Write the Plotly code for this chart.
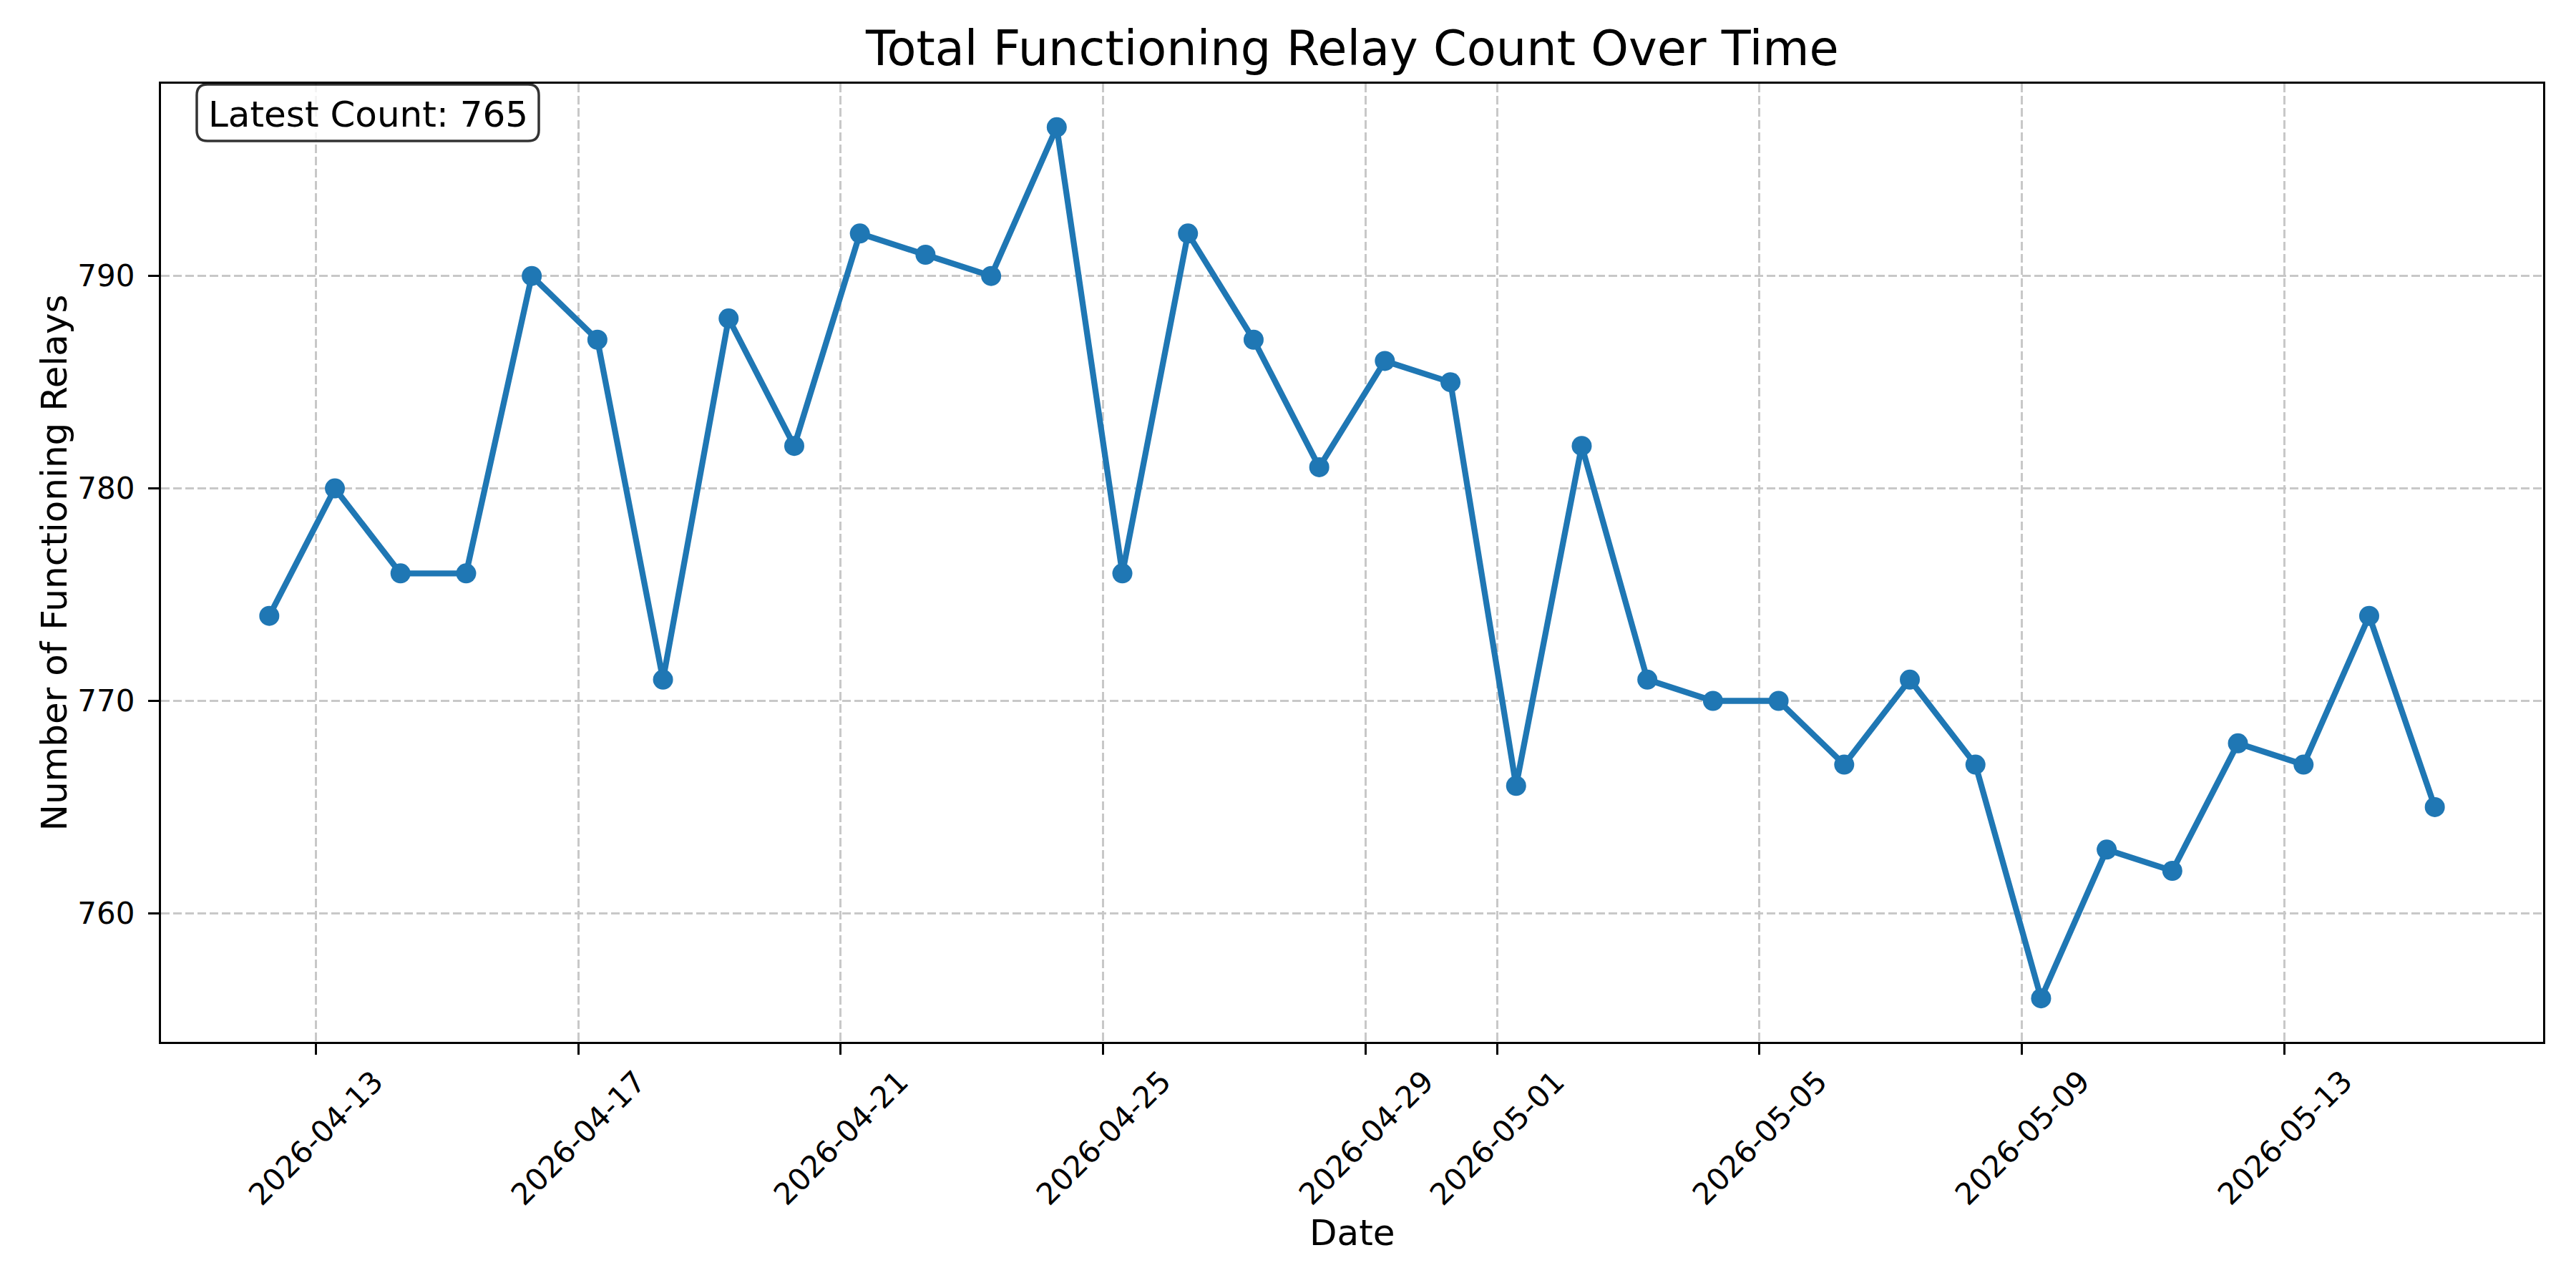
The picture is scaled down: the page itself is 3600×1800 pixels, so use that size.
import plotly.graph_objects as go
import pandas as pd

# ---- data ----
dates = [
    "2026-04-12 07:00", "2026-04-13 07:00", "2026-04-14 07:00", "2026-04-15 07:00",
    "2026-04-16 07:00", "2026-04-17 07:00", "2026-04-18 07:00", "2026-04-19 07:00",
    "2026-04-20 07:00", "2026-04-21 07:00", "2026-04-22 07:00", "2026-04-23 07:00",
    "2026-04-24 07:00", "2026-04-25 07:00", "2026-04-26 07:00", "2026-04-27 07:00",
    "2026-04-28 07:00", "2026-04-29 07:00", "2026-04-30 07:00", "2026-05-01 07:00",
    "2026-05-02 07:00", "2026-05-03 07:00", "2026-05-04 07:00", "2026-05-05 07:00",
    "2026-05-06 07:00", "2026-05-07 07:00", "2026-05-08 07:00", "2026-05-09 07:00",
    "2026-05-10 07:00", "2026-05-11 07:00", "2026-05-12 07:00", "2026-05-13 07:00",
    "2026-05-14 07:00", "2026-05-15 07:00",
]
counts = [
    774, 780, 776, 776, 790, 787, 771, 788, 782, 792, 791, 790, 797, 776, 792, 787,
    781, 786, 785, 766, 782, 771, 770, 770, 767, 771, 767, 756, 763, 762, 768, 767,
    774, 765,
]
tick_dates = ["2026-04-13", "2026-04-17", "2026-04-21", "2026-04-25", "2026-04-29",
              "2026-05-01", "2026-05-05", "2026-05-09", "2026-05-13"]
y_ticks = [760, 770, 780, 790]

title_text = "Total Functioning Relay Count Over Time"
x_title = "Date"
y_title = "Number of Functioning Relays"

# ---- geometry ----
W, H = 3600, 1800
L, R, T, B = 225, 46, 117, 344
PW, PH = W - L - R, H - T - B


def px_x(px):
    return (px - L) / PW


def px_y(py):
    return (H - B - py) / PH


FONT = "DejaVu Sans"
BLUE = "#1f77b4"

d = pd.to_datetime(dates)
span = d.max() - d.min()
x_range = [d.min() - 0.05 * span, d.max() + 0.05 * span]
ymin, ymax = min(counts), max(counts)
yspan = ymax - ymin
y_range = [ymin - 0.05 * yspan, ymax + 0.05 * yspan]

fig = go.Figure()
fig.add_trace(go.Scatter(
    x=d, y=counts, mode="lines+markers",
    line=dict(color=BLUE, width=8.3),
    marker=dict(color=BLUE, size=28, line=dict(width=0)),
    showlegend=False,
))

annotations = []
# title
annotations.append(dict(text=title_text, x=0.5, y=px_y(68), xref="paper", yref="paper",
                        xanchor="center", yanchor="middle", showarrow=False,
                        font=dict(family=FONT, size=67, color="black")))
# x title
annotations.append(dict(text=x_title, x=0.5, y=px_y(1723), xref="paper", yref="paper",
                        xanchor="center", yanchor="middle", showarrow=False,
                        font=dict(family=FONT, size=50, color="black")))
# y title
annotations.append(dict(text=y_title, x=px_x(75), y=0.5, xref="paper", yref="paper",
                        xanchor="center", yanchor="middle", textangle=-90, showarrow=False,
                        font=dict(family=FONT, size=50, color="black")))
# rotated x tick labels
for t in tick_dates:
    annotations.append(dict(text=t, x=t, y=px_y(1590), xref="x", yref="paper",
                            xanchor="center", yanchor="middle", textangle=-45,
                            showarrow=False,
                            font=dict(family=FONT, size=42, color="black")))

# latest count box
bx0, bx1, by0, by1 = 275, 753, 118, 197
rr = 15
x0, x1 = px_x(bx0), px_x(bx1)
y0, y1 = px_y(by1), px_y(by0)
rx, ry = rr / PW, rr / PH
path = (f"M {x0+rx},{y1} L {x1-rx},{y1} Q {x1},{y1} {x1},{y1-ry} "
        f"L {x1},{y0+ry} Q {x1},{y0} {x1-rx},{y0} L {x0+rx},{y0} "
        f"Q {x0},{y0} {x0},{y0+ry} L {x0},{y1-ry} Q {x0},{y1} {x0+rx},{y1} Z")
shapes = [dict(type="path", path=path, xref="paper", yref="paper",
               fillcolor="rgba(255,255,255,0.8)",
               line=dict(color="rgba(0,0,0,0.8)", width=3.5), layer="above")]
annotations.append(dict(text=f"Latest Count: {counts[-1]}",
                        x=px_x((bx0 + bx1) / 2), y=px_y((by0 + by1) / 2 + 2),
                        xref="paper", yref="paper", xanchor="center", yanchor="middle",
                        showarrow=False,
                        font=dict(family=FONT, size=50, color="black")))

fig.update_layout(
    width=W, height=H,
    margin=dict(l=L, r=R, t=T, b=B, autoexpand=False),
    paper_bgcolor="white", plot_bgcolor="white",
    font=dict(family=FONT, color="black"),
    annotations=annotations, shapes=shapes,
    xaxis=dict(
        type="date", range=x_range, tickvals=tick_dates, showticklabels=False,
        ticks="outside", ticklen=15, tickwidth=3.3, tickcolor="black",
        showline=True, linecolor="black", linewidth=3.3, mirror=True,
        showgrid=True, gridcolor="#c8c8c8", gridwidth=3.3, griddash="12px,5px",
        zeroline=False,
    ),
    yaxis=dict(
        range=y_range, tickvals=y_ticks,
        ticks="outside", ticklen=15, tickwidth=3.3, tickcolor="black",
        tickfont=dict(family=FONT, size=42, color="black"),
        ticklabelstandoff=10,
        showline=True, linecolor="black", linewidth=3.3, mirror=True,
        showgrid=True, gridcolor="#c8c8c8", gridwidth=3.3, griddash="12px,5px",
        zeroline=False,
    ),
)

fig.write_html("out.html")
